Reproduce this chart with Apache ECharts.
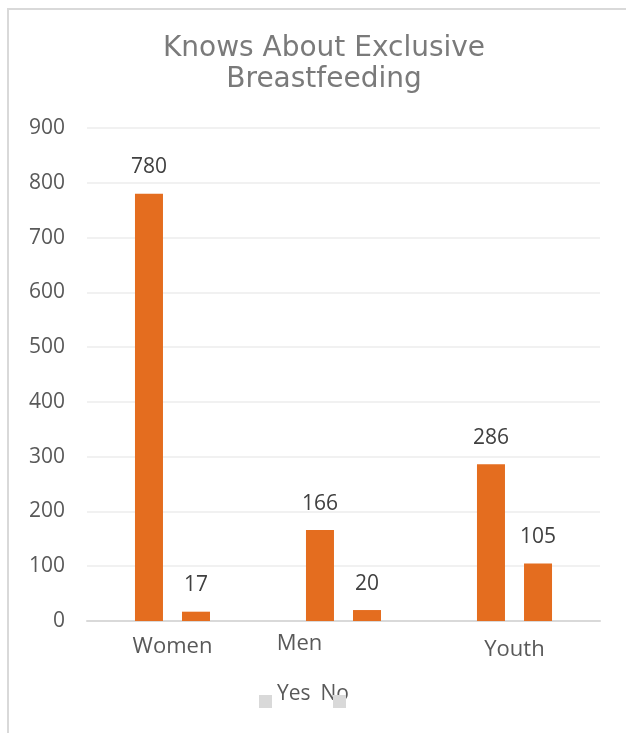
<!DOCTYPE html>
<html>
<head>
<meta charset="utf-8">
<script src="https://cdn.jsdelivr.net/npm/echarts@6/dist/echarts.min.js"></script>
<style>
  html, body { margin: 0; padding: 0; background: #fff; }
  #chart { width: 626px; height: 733px; }
</style>
</head>
<body>
<div id="chart"></div>
<script>
// Survey groups and answers
const categories = ['Women', 'Men', 'Youth'];
const yesValues = [780, 166, 286];
const noValues = [17, 20, 105];
const yTicks = { min: 0, max: 900, interval: 100 };

const barColor = '#E46D1F';
const labelFont = 'Open Sans, Noto Sans, sans-serif';

// per-category label nudges (Men sits left of its bars, Youth a bit lower)
const catLabelPadding = {
  Women: [3, 0, 0, 0],
  Men: [0, 88, 0, 0],
  Youth: [6, 0, 0, 0]
};

const chart = echarts.init(document.getElementById('chart'), null, { renderer: 'canvas' });

const valueLabel = {
  show: true,
  position: 'top',
  distance: 16,
  fontSize: 21,
  color: '#404040',
  fontFamily: labelFont
};

// legend: names drawn as one text run, swatches drawn by a second legend
const legendNames = ['Yes', 'No'];

chart.setOption({
  animation: false,
  backgroundColor: '#fff',
  title: {
    text: 'Knows About Exclusive\nBreastfeeding',
    left: 319,
    top: 28,
    textAlign: 'center',
    textStyle: {
      fontFamily: 'DejaVu Sans, sans-serif',
      fontWeight: 'normal',
      fontSize: 28,
      lineHeight: 31,
      color: '#7a7a7a',
      align: 'center'
    }
  },
  graphic: [{
    type: 'rect',
    silent: true,
    shape: { x: 8, y: 9, width: 700, height: 800 },
    style: { fill: 'none', stroke: '#d9d9d9', lineWidth: 2 }
  }],
  legend: [{
    data: legendNames.map(n => ({ name: n, icon: 'none' })),
    left: 259,
    top: 684,
    padding: 0,
    itemWidth: 13,
    itemHeight: 13,
    itemGap: -8,
    textStyle: { fontFamily: labelFont, fontSize: 21, color: '#595959' },
    selectedMode: false
  }, {
    data: legendNames,
    left: 259,
    top: 695,
    padding: 0,
    icon: 'rect',
    itemWidth: 13,
    itemHeight: 13,
    itemGap: 61,
    formatter: () => '',
    itemStyle: { color: '#d9d9d9' },
    selectedMode: false
  }],
  grid: { left: 87, right: 26, top: 128, bottom: 112, containLabel: false },
  xAxis: {
    type: 'category',
    data: categories.map(c => ({ value: c, textStyle: { padding: catLabelPadding[c] } })),
    axisLine: { lineStyle: { color: '#d9d9d9', width: 2 } },
    axisTick: { show: false },
    axisLabel: { fontSize: 22, color: '#595959', fontFamily: labelFont, margin: 12 }
  },
  yAxis: {
    type: 'value',
    min: yTicks.min,
    max: yTicks.max,
    interval: yTicks.interval,
    axisLine: { show: false },
    axisTick: { show: false },
    splitLine: { lineStyle: { color: '#ededed', width: 1.5 } },
    axisLabel: { fontSize: 21, color: '#595959', fontFamily: labelFont, margin: 22 }
  },
  series: [{
    name: 'Yes',
    type: 'bar',
    data: yesValues,
    barWidth: 28,
    barGap: '68%',
    itemStyle: { color: barColor },
    label: valueLabel
  }, {
    name: 'No',
    type: 'bar',
    data: noValues,
    barWidth: 28,
    itemStyle: { color: barColor },
    label: valueLabel
  }]
});
</script>
</body>
</html>
